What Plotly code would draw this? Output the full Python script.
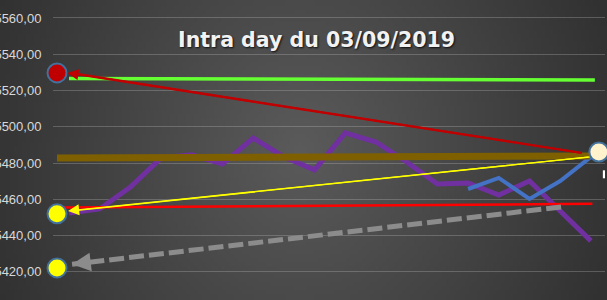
import base64, struct, zlib, math
import plotly.graph_objects as go

# ---------------- data ----------------
purple_x = list(range(18))
purple_y = [5452.5, 5454.7, 5466.8, 5482.8, 5484.5, 5479.5, 5493.8, 5483.4, 5476.2,
            5496.6, 5491.6, 5480.6, 5468.5, 5469.0, 5462.4, 5470.1, 5453.6, 5437.1]
blue_x = [13, 14, 15, 16, 17]
blue_y = [5465.7, 5471.8, 5460.2, 5470.1, 5483.4]

green_x = [0, 17.13]
green_y = [5526.6, 5525.8]
gold_x = [-0.39, 16.97]
gold_y = [5482.8, 5483.9]
red_x = [-0.2, 17.05]
red_y = [5455.5, 5457.5]
gray_x = [16.03, 0.1]
gray_y = [5455.8, 5424.2]
# arrows: tail -> head
darkred_tail = (16.71, 5485.6)
darkred_head = (-0.05, 5529.7)
yellow_tail = (16.97, 5483.4)
yellow_head = (-0.03, 5453.6)

circle_x = [-0.39, -0.39, -0.39, 17.26]
circle_y = [5529.7, 5452.0, 5422.2, 5486.1]
circle_fill = ["#C00000", "#FFFF00", "#FFFF00", "#FFF2CC"]

y_ticks = [5400, 5420, 5440, 5460, 5480, 5500, 5520, 5540, 5560]
title_text = "Intra day du 03/09/2019"

# ---------------- background gradient (png) ----------------
W, H = 152, 75
def shade(px, py):
    x = px * 607 / (W - 1)
    y = py * 300 / (H - 1)
    r = math.sqrt(((x - 300) / 360) ** 2 + ((y - 150) / 400) ** 2)
    v = 91 - 45 * min(r, 1.1)
    return int(max(0, min(255, v)))
raw = b""
for py in range(H):
    row = bytearray([0])
    for px in range(W):
        v = shade(px, py)
        row += bytes([v, v, v])
    raw += bytes(row)
def chunk(t, d):
    c = struct.pack(">I", len(d)) + t + d
    return c + struct.pack(">I", zlib.crc32(t + d) & 0xffffffff)
png = b"\x89PNG\r\n\x1a\n" + chunk(b"IHDR", struct.pack(">IIBBBBB", W, H, 8, 2, 0, 0, 0)) \
      + chunk(b"IDAT", zlib.compress(raw, 9)) + chunk(b"IEND", b"")
bg_uri = "data:image/png;base64," + base64.b64encode(png).decode()

# ---------------- figure ----------------
ML, MR = 53, 2
PW = 607 - ML - MR
fig = go.Figure()

fig.add_trace(go.Scatter(x=purple_x, y=purple_y, mode="lines",
                         line=dict(color="#7030A0", width=5), hoverinfo="skip"))
fig.add_trace(go.Scatter(x=blue_x, y=blue_y, mode="lines",
                         line=dict(color="#4472C4", width=4), hoverinfo="skip"))
fig.add_trace(go.Scatter(x=green_x, y=green_y, mode="lines",
                         line=dict(color="#66FF33", width=3.5), hoverinfo="skip"))
fig.add_trace(go.Scatter(x=gold_x, y=gold_y, mode="lines",
                         line=dict(color="#7F6000", width=7), hoverinfo="skip"))
fig.add_trace(go.Scatter(x=red_x, y=red_y, mode="lines",
                         line=dict(color="#FF0000", width=2.5), hoverinfo="skip"))
fig.add_trace(go.Scatter(x=gray_x, y=gray_y, mode="lines",
                         line=dict(color="#8C8C8C", width=5, dash="15px,5px"), hoverinfo="skip"))
fig.add_trace(go.Scatter(x=[yellow_tail[0], yellow_head[0] + 0.3], y=[yellow_tail[1], yellow_head[1] + 0.3],
                         mode="lines", line=dict(color="#FFFF00", width=1.3), hoverinfo="skip"))
fig.add_trace(go.Scatter(x=[darkred_tail[0], darkred_head[0] + 0.3], y=[darkred_tail[1], darkred_head[1] - 0.5],
                         mode="lines", line=dict(color="#C00000", width=2), hoverinfo="skip"))
fig.add_trace(go.Scatter(x=circle_x, y=circle_y, mode="markers",
                         marker=dict(size=19, color=circle_fill, line=dict(color="#41719C", width=2)),
                         hoverinfo="skip", cliponaxis=False))

annotations = [
    dict(x=darkred_head[0], y=darkred_head[1], ax=darkred_tail[0], ay=darkred_tail[1],
         xref="x", yref="y", axref="x", ayref="y", text="", showarrow=True,
         arrowhead=2, arrowsize=1.1, arrowwidth=2, arrowcolor="#C00000"),
    dict(x=yellow_head[0], y=yellow_head[1], ax=yellow_tail[0], ay=yellow_tail[1],
         xref="x", yref="y", axref="x", ayref="y", text="", showarrow=True,
         arrowhead=2, arrowsize=1.7, arrowwidth=1.3, arrowcolor="#FFFF00"),
    dict(x=gray_x[1], y=gray_y[1], ax=14, ay=-1.7, xref="x", yref="y", text="", showarrow=True,
         arrowhead=2, arrowsize=0.75, arrowwidth=5, arrowcolor="#8C8C8C"),
    dict(x=(316 - ML) / PW, y=1 - 40 / 300, xref="paper", yref="paper", text="<b>" + title_text + "</b>",
         showarrow=False, xanchor="center", yanchor="middle",
         font=dict(family="DejaVu Sans", size=20.5, color="#F2F2F2", shadow="1px 1px 2px rgba(0,0,0,0.8)")),
]

fig.update_layout(
    width=607, height=300,
    margin=dict(l=ML, r=MR, t=0, b=0, autoexpand=False),
    paper_bgcolor="#474747", plot_bgcolor="rgba(0,0,0,0)",
    showlegend=False, separators=",.",
    images=[dict(source=bg_uri, xref="paper", yref="paper", x=-ML / PW, y=1,
                 sizex=607 / PW, sizey=1, sizing="stretch", layer="below",
                 xanchor="left", yanchor="top")],
    xaxis=dict(range=[-0.521, 17.46], showgrid=False, zeroline=False, showticklabels=False,
               showline=False, fixedrange=True),
    yaxis=dict(range=[5404.5, 5569.9], tickvals=y_ticks, tickformat=".2f",
               showgrid=True, gridcolor="rgba(200,200,200,0.28)", gridwidth=1,
               zeroline=False, showline=False, ticks="outside", ticklen=8,
               tickcolor="rgba(0,0,0,0)",
               tickfont=dict(family="Liberation Sans", size=13, color="#D9D9D9"),
               fixedrange=True),
    annotations=annotations,
    shapes=[dict(type="rect", xref="x", yref="y", x0=17.39, x1=17.46, y0=5471.6, y1=5476,
                 fillcolor="white", line=dict(width=0))],
)

fig.write_html("out.html")
